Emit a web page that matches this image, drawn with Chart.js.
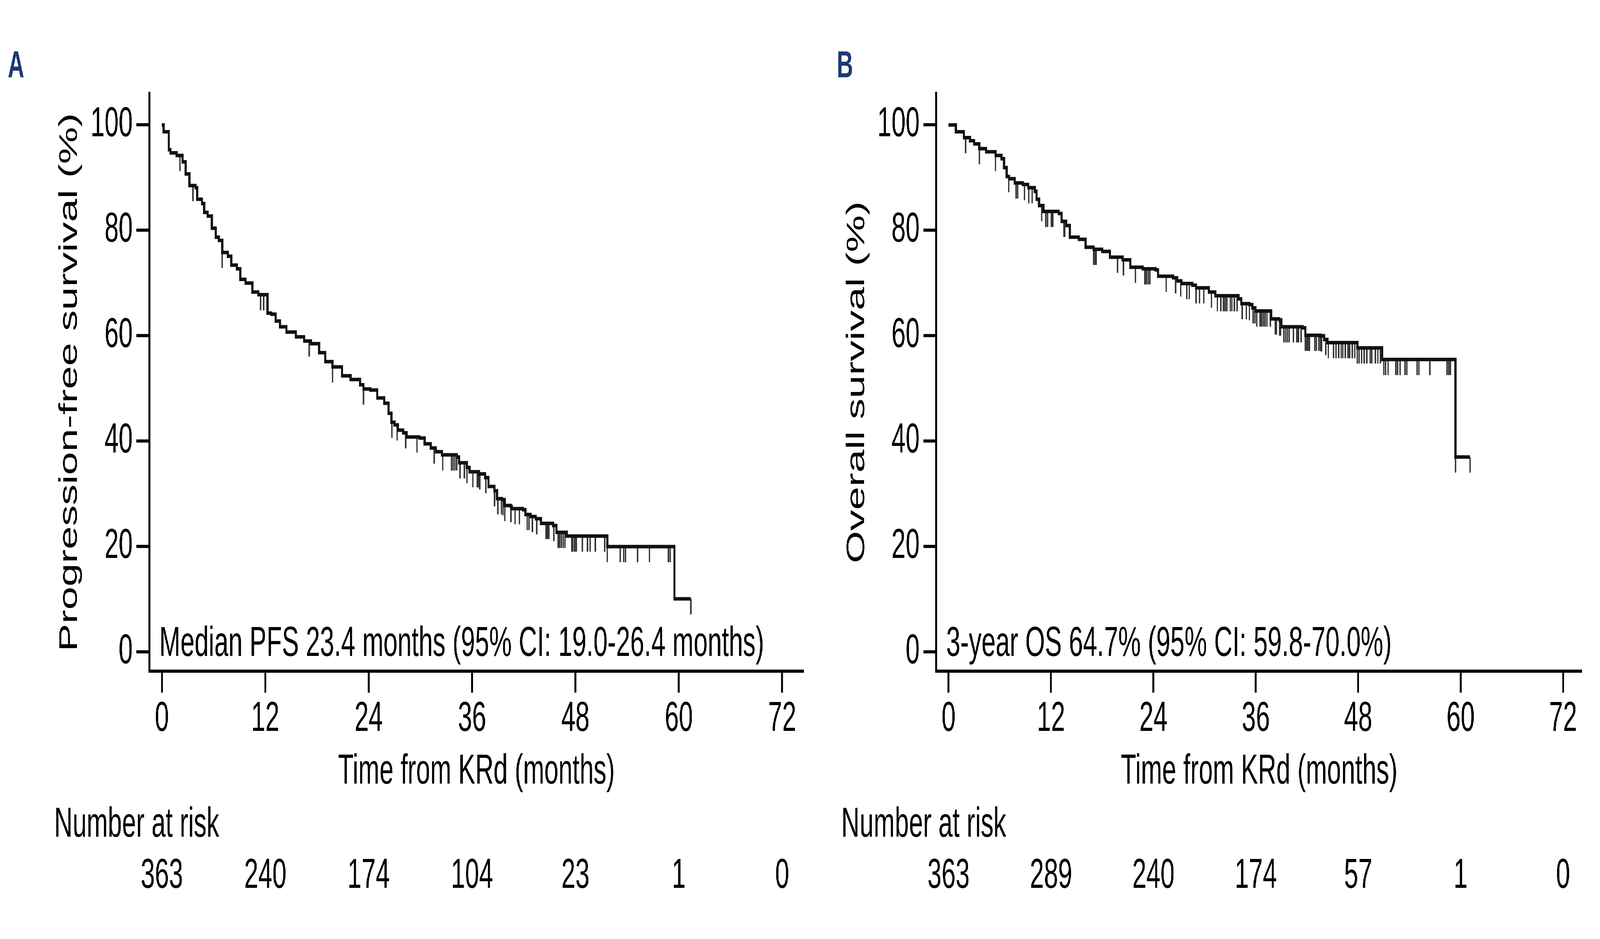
<!DOCTYPE html>
<html>
<head>
<meta charset="utf-8">
<script src="https://cdn.jsdelivr.net/npm/chart.js@4.4.0/dist/chart.umd.min.js"></script>
<style>
  html, body { margin: 0; background: #fff; overflow: hidden; }
  #wrap { position: relative; width: 6750px; height: 2405px; transform-origin: 0 0; }
  canvas { position: absolute; top: 0; }
  #chartA { left: 0; }
  #chartB { left: 3450px; }
</style>
</head>
<body>
<div id="wrap">
<canvas id="chartA" width="3450" height="2405"></canvas>
<canvas id="chartB" width="3300" height="2405"></canvas>
</div>
<script>
const xTicks = [0, 12, 24, 36, 48, 60, 72];
const yTicks = [0, 20, 40, 60, 80, 100];

// Panel A: progression-free survival (step points: month, %)
const pfsTime = [0, 0.2, 0.8, 1.0, 1.7, 2.4, 2.75, 3.2, 3.9, 4.1, 4.65, 4.9, 5.3, 5.8, 6.25, 6.6,
  7.0, 7.65, 8.05, 8.7, 9.1, 9.7, 10.5, 11.2, 12.25, 12.7, 13.2, 13.7, 14.45, 15.55, 16.5, 17.3,
  18.25, 18.95, 19.8, 20.9, 21.9, 23.0, 23.4, 24.2, 25.0, 25.8, 26.3, 26.65, 27.0, 27.4, 28.0,
  28.4, 29.9, 30.5, 31.2, 31.8, 32.5, 34.25, 34.5, 35.4, 35.7, 36.8, 37.5, 37.9, 38.6, 38.9,
  39.5, 39.8, 40.5, 40.6, 41.9, 42.2, 42.8, 43.4, 44.0, 45.4, 45.8, 47.0, 51.7, 59.5, 61.4];
const pfsSurv = [100, 98.7, 95.3, 94.7, 94.2, 93.0, 90.7, 88.5, 88.1, 85.9, 85.1, 83.4, 82.7, 80.4, 78.7, 78.1,
  75.8, 75.1, 73.4, 72.7, 70.7, 70.0, 68.3, 67.8, 64.3, 64.1, 62.8, 61.7, 60.7, 59.8, 59.0, 58.5,
  56.8, 55.1, 54.1, 52.4, 51.7, 50.7, 49.9, 49.7, 48.2, 47.2, 45.3, 43.6, 43.1, 42.1, 41.6,
  40.8, 40.6, 39.5, 38.7, 38.0, 37.4, 37.0, 35.9, 35.0, 34.2, 33.8, 33.1, 31.4, 30.6, 29.1,
  28.9, 27.8, 27.6, 27.2, 27.0, 26.1, 25.7, 25.3, 24.4, 24.0, 22.7, 22.0, 20.0, 10.1, 10.1];
const pfsCensor = [2.1, 3.6, 7.0, 11.45, 11.8, 17.1, 19.8, 23.4, 26.7, 27.3, 28.3, 29.6, 31.6, 32.6,
  33.6, 33.8, 34.0, 34.2, 34.6, 35.1, 35.4, 36.1, 36.6, 36.75, 36.9, 37.6, 38.6, 39.0, 39.4, 39.6,
  39.8, 40.5, 41.0, 41.5, 42.4, 42.6, 43.0, 43.5, 44.6, 44.75, 44.9, 45.5, 46.0, 46.2, 46.4, 46.6,
  46.8, 47.6, 47.7, 47.9, 48.1, 48.8, 49.4, 49.7, 50.3, 51.4, 51.7, 53.2, 53.6, 53.8, 55.2, 56.6,
  58.8, 59.0, 61.4];
const pfsRisk = [363, 240, 174, 104, 23, 1, 0];

// Panel B: overall survival
const osTime = [0, 0.85, 1.8, 2.5, 3.0, 3.6, 4.4, 5.5, 6.2, 6.5, 6.8, 7.1, 7.75, 8.7, 9.35, 10.1,
  10.3, 10.6, 11.1, 12.9, 13.25, 13.8, 14.2, 15.25, 16.05, 17.0, 18.0, 18.9, 20.4, 21.3, 22.75,
  24.25, 24.55, 26.3, 26.8, 27.3, 28.55, 29.0, 30.5, 31.25, 33.97, 34.3, 35.25, 35.6, 35.95,
  37.8, 38.75, 39.0, 41.5, 41.8, 43.6, 44.0, 44.4, 47.9, 50.8, 59.4, 61.1];
const osSurv = [100, 98.7, 97.6, 97.0, 96.4, 95.5, 94.9, 94.2, 93.6, 91.9, 90.2, 89.8, 89.0, 88.7, 88.1, 87.4,
  85.9, 84.7, 83.6, 83.2, 81.7, 80.9, 78.7, 78.3, 76.8, 76.4, 76.0, 74.9, 74.4, 73.0, 72.7,
  72.5, 71.3, 71.0, 70.4, 69.9, 69.6, 69.1, 68.3, 67.6, 67.0, 66.1, 65.9, 65.3, 64.7,
  63.2, 63.0, 61.7, 61.5, 60.1, 60.0, 59.3, 58.7, 57.7, 55.5, 37.0, 37.0];
const osCensor = [2.0, 3.6, 5.5, 7.05, 7.9, 8.1, 8.9, 9.4, 9.8, 10.9, 11.4, 11.6, 12.05, 12.2, 13.5,
  13.6, 17.0, 17.2, 17.3, 19.8, 20.5, 21.9, 23.0, 23.2, 23.4, 23.6, 25.5, 26.6, 27.2, 27.9, 28.2,
  29.0, 29.4, 29.9, 30.8, 31.5, 31.9, 32.2, 32.4, 32.6, 33.0, 33.2, 33.5, 33.8, 34.4, 34.9, 35.25,
  35.7, 35.9, 36.1, 36.5, 36.7, 36.9, 37.1, 37.3, 37.7, 38.3, 38.4, 38.8, 38.9, 39.3, 39.5, 39.7,
  39.9, 40.4, 40.8, 41.0, 41.3, 41.8, 42.0, 42.2, 42.3, 42.9, 43.1, 43.4, 43.6, 43.7, 44.2, 44.5,
  45.1, 45.4, 45.7, 46.0, 46.2, 46.5, 46.8, 47.0, 47.3, 47.6, 47.9, 48.1, 48.4, 48.7, 49.0, 49.4,
  49.6, 50.0, 50.3, 50.6, 51.0, 51.2, 51.5, 52.4, 52.6, 52.9, 53.5, 53.7, 54.9, 55.1, 56.4, 58.4,
  58.6, 58.8, 59.4, 61.1];
const osRisk = [363, 289, 240, 174, 57, 1, 0];

const FONT = "'Liberation Sans', Arial, sans-serif";
const FS = 107;

// the page is laid out at 6750x2405; squeeze it into whatever window we get
const wrap = document.getElementById('wrap');
const sx = Math.min(1, window.innerWidth / 6750);
const sy = Math.min(1, window.innerHeight / 2405);
wrap.style.transform = 'scale(' + sx + ',' + sy + ')';

function survAt(times, surv, t) {
  let s = surv[0];
  for (let i = 0; i < times.length; i++) {
    if (times[i] <= t) s = surv[i];
  }
  return s;
}

// small tick hanging below the curve for censored patients
function censorMark() {
  const c = document.createElement('canvas');
  c.width = 8;
  c.height = 90;
  const g = c.getContext('2d');
  g.fillStyle = '#333';
  g.fillRect(1, 45, 6, 40);
  return c;
}

function drawKm(id, cfg) {
  const mark = censorMark();
  const font = { family: FONT, size: FS, lineHeight: 1.2 };

  const extras = {
    id: 'extras',
    afterDraw(chart) {
      const ctx = chart.ctx;
      const area = chart.chartArea;
      const xs = chart.scales.x;
      ctx.save();
      ctx.fillStyle = '#000';
      ctx.font = FS + 'px ' + FONT;
      ctx.textBaseline = 'alphabetic';
      ctx.textAlign = 'left';
      ctx.fillText(cfg.note, area.left + 42, 1680);
      ctx.fillText('Number at risk', area.left - 401, 2143);
      ctx.textAlign = 'center';
      cfg.risk.forEach((n, i) => {
        ctx.fillText(String(n), xs.getPixelForValue(xTicks[i]), 2274);
      });
      ctx.textAlign = 'left';
      ctx.fillStyle = '#1c3a72';
      ctx.font = 'bold 96px ' + FONT;
      ctx.fillText(cfg.letter, cfg.letterX, 198);
      ctx.restore();
    }
  };

  new Chart(document.getElementById(id), {
    type: 'line',
    data: {
      datasets: [
        {
          data: cfg.time.map((t, i) => ({ x: t, y: cfg.surv[i] })),
          stepped: 'before',
          borderColor: '#111',
          borderWidth: 9,
          pointRadius: 0,
          fill: false
        },
        {
          data: cfg.censor.map(t => ({ x: t, y: survAt(cfg.time, cfg.surv, t) })),
          showLine: false,
          pointStyle: mark,
          pointRadius: 3,
          borderWidth: 0
        }
      ]
    },
    options: {
      responsive: false,
      animation: false,
      devicePixelRatio: 1,
      events: [],
      layout: { padding: { left: cfg.padLeft, right: cfg.padRight, top: 239, bottom: 363 } },
      plugins: { legend: { display: false }, tooltip: { enabled: false } },
      scales: {
        x: {
          type: 'linear',
          min: cfg.xMin,
          max: cfg.xMax,
          afterBuildTicks: s => { s.ticks = xTicks.map(v => ({ value: v })); },
          afterFit: s => { s.height = 323; },
          border: { display: true, color: '#000', width: 8 },
          grid: { drawOnChartArea: false, drawTicks: true, tickLength: 55, tickWidth: 8, tickColor: '#000' },
          ticks: { padding: 4, color: '#000', font: font, maxRotation: 0, autoSkip: false },
          title: { display: true, text: 'Time from KRd (months)', color: '#000', font: font, padding: 0 }
        },
        y: {
          min: -3.63,
          max: 106,
          afterBuildTicks: s => { s.ticks = yTicks.map(v => ({ value: v })); },
          afterFit: s => { s.width = cfg.yWidth; },
          border: { display: true, color: '#000', width: 8 },
          grid: { drawOnChartArea: false, drawTicks: true, tickLength: 55, tickWidth: 8, tickColor: '#000' },
          ticks: { padding: 15, color: '#000', font: font },
          title: { display: true, text: cfg.yTitle, color: '#000', font: font, padding: 0 }
        }
      }
    },
    plugins: [extras]
  });
}

drawKm('chartA', {
  time: pfsTime, surv: pfsSurv, censor: pfsCensor, risk: pfsRisk,
  yTitle: 'Progression-free survival (%)',
  note: 'Median PFS 23.4 months (95% CI: 19.0-26.4 months)',
  letter: 'A', letterX: 33,
  padLeft: 230, padRight: 60, yWidth: 400,
  xMin: -1.46, xMax: 74.48
});

drawKm('chartB', {
  time: osTime, surv: osSurv, censor: osCensor, risk: osRisk,
  yTitle: 'Overall survival (%)',
  note: '3-year OS 64.7% (95% CI: 59.8-70.0%)',
  letter: 'B', letterX: 80,
  padLeft: 102, padRight: 76, yWidth: 398,
  xMin: -1.44, xMax: 74.22
});
</script>
</body>
</html>
